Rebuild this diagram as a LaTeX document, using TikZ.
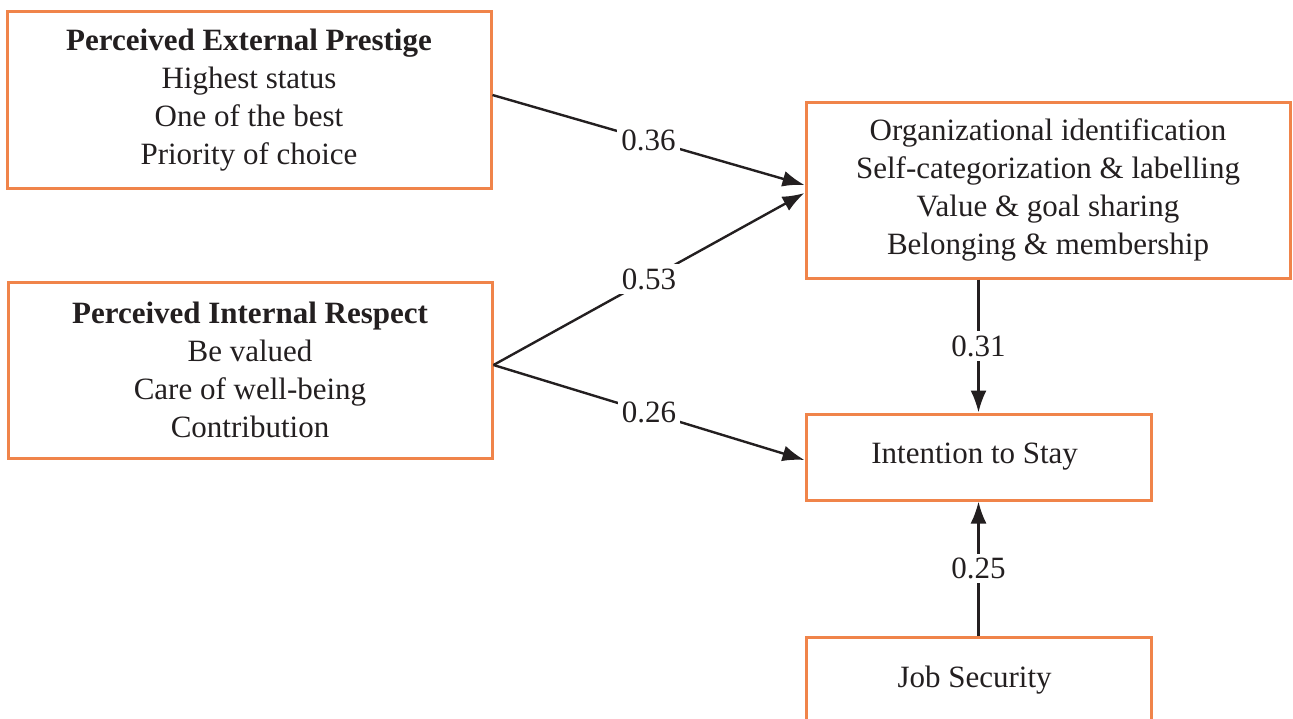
\documentclass[tikz,border=0pt]{standalone}
\usepackage{fontspec}
\setmainfont{Liberation Serif}
\usetikzlibrary{arrows.meta}
\definecolor{boxorange}{HTML}{F0844A}
\definecolor{ink}{HTML}{231F20}
\tikzset{
  factor/.style={draw=boxorange, line width=1.5pt, align=center, inner sep=0pt,
    font=\fontsize{15.5}{19}\selectfont, text=ink},
  path/.style={draw=ink, line width=1.2pt, -{Latex[length=11pt,width=8pt]}},
  coef/.style={fill=white, inner sep=2pt, font=\fontsize{15.5}{19}\selectfont, text=ink}
}
\begin{document}
\begin{tikzpicture}[x=0.5pt,y=-0.5pt]
  \useasboundingbox (0,0) rectangle (1293,718);

  \node [factor, minimum width=242pt, minimum height=88.5pt] (pep) at (249,100)
    { \textbf{Perceived External Prestige} \\ Highest status \\ One of the best \\ Priority of choice };
  \node [factor, minimum width=242pt, minimum height=88pt] (pir) at (250,370)
    { \textbf{Perceived Internal Respect} \\ Be valued \\ Care of well-being \\ Contribution };
  \node [factor, minimum width=242pt, minimum height=88pt] (oi) at (1048,190)
    { Organizational identification \\ Self-categorization \& labelling \\ Value \& goal sharing \\ Belonging \& membership };
  \node [factor, minimum width=172.5pt, minimum height=43pt] (is) at (978.5,457) { Intention to Stay };
  \node [factor, minimum width=172.5pt, minimum height=43pt] (js) at (978.5,680) { Job Security };

  \draw [path] ([yshift=2.5pt]pep.east) -- ([yshift=2.5pt]oi.west) node [coef, midway] { 0.36 };
  \draw [path] ([yshift=2.5pt]pir.east) -- ([yshift=-1.5pt]oi.west) node [coef, midway] { 0.53 };
  \draw [path] ([yshift=2.5pt]pir.east) -- ([yshift=-1.5pt]is.west) node [coef, midway] { 0.26 };
  \draw [path] (oi.south -| is.north) -- (is.north) node [coef, midway] { 0.31 };
  \draw [path] (js.north) -- (is.south) node [coef, midway] { 0.25 };
\end{tikzpicture}
\end{document}
